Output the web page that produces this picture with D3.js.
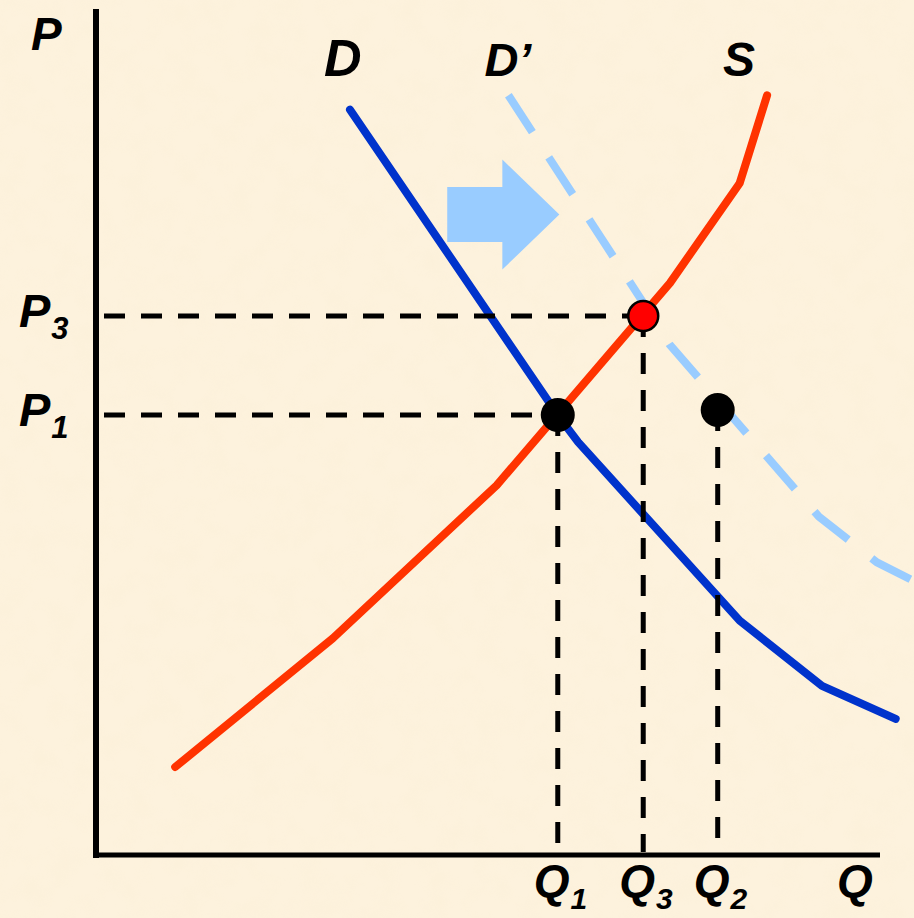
<!DOCTYPE html>
<html>
<head>
<meta charset="utf-8">
<script src="https://cdn.jsdelivr.net/npm/d3@7"></script>
<style>
  body { margin: 0; background: #fcf0d8; }
  text { font-family: "Liberation Sans", Arial, sans-serif; font-weight: bold; font-style: italic; fill: #000; }
</style>
</head>
<body>
<svg id="chart"></svg>
<script>
//set up SVG dimensions
const w = 914, h = 918;

// curves in chart units: [quantity, price], both axes run 0..100
const demand = [[32.4, 88.1], [58.9, 52.0], [61.5, 48.8], [82.1, 27.7], [92.6, 20.0], [102.0, 16.1]];
const demandShifted = [[52.6, 89.8], [70.0, 65.0], [73.2, 60.3], [92.2, 40.0], [99.6, 34.6], [104.3, 32.4]];
const supply = [[10.1, 10.4], [30.2, 25.6], [51.1, 43.7], [73.2, 67.6], [82.1, 79.4], [85.6, 89.8]];

// equilibrium / reference points
const pointNames = ["E1", "E3", "E2"];
const pointQ = [58.9, 69.8, 79.3];
const pointP = [52.0, 63.7, 52.6];

// tick labels
const priceTicks = ["3", "1"];        // P3, P1
const priceValues = [63.7, 52.0];
const qtyTicks = ["1", "3", "2"];      // Q1, Q3, Q2
const qtyValues = [58.9, 69.8, 79.3];

// shift arrow (from q to q, at price)
const arrowFrom = 44.8, arrowTo = 59.1, arrowP = 75.7;

const svg = d3.select("#chart")
    .attr("width", w)
    .attr("height", h);

//parchment background
const defs = svg.append("defs");
const f = defs.append("filter").attr("id", "paper")
    .attr("x", 0).attr("y", 0).attr("width", "100%").attr("height", "100%");
f.append("feTurbulence")
    .attr("type", "fractalNoise")
    .attr("baseFrequency", 0.04)
    .attr("numOctaves", 3)
    .attr("seed", 7)
    .attr("result", "noise");
f.append("feColorMatrix")
    .attr("in", "noise")
    .attr("type", "matrix")
    .attr("values", "0 0 0 0 0.94  0 0 0 0 0.84  0 0 0 0 0.64  1.4 0 0 0 -0.55");

svg.append("rect").attr("width", w).attr("height", h).attr("fill", "#fdf2dd");
svg.append("rect").attr("width", w).attr("height", h)
    .attr("filter", "url(#paper)").attr("opacity", 0.3);

//scales
const x = d3.scaleLinear().domain([0, 100]).range([96, 880]);
const y = d3.scaleLinear().domain([0, 100]).range([855, 9]);

const line = d3.line().x(d => x(d[0])).y(d => y(d[1]));

//axes (plain L shape, no ticks)
svg.append("line")
    .attr("x1", x(0)).attr("x2", x(0))
    .attr("y1", y(100)).attr("y2", y(0) + 3)
    .attr("stroke", "#000").attr("stroke-width", 6);
svg.append("line")
    .attr("x1", x(0) - 3).attr("x2", x(100))
    .attr("y1", y(0)).attr("y2", y(0))
    .attr("stroke", "#000").attr("stroke-width", 5);

//shift arrow
const ay = y(arrowP), ax0 = x(arrowFrom), ax1 = x(arrowTo);
const headX = ax1 - 57;
svg.append("path")
    .attr("d", `M${ax0},${ay - 27.5}L${headX},${ay - 27.5}L${headX},${ay - 55}L${ax1},${ay}` +
        `L${headX},${ay + 55}L${headX},${ay + 27.5}L${ax0},${ay + 27.5}Z`)
    .attr("fill", "#99ccff");

//curves
svg.append("path").datum(demandShifted)
    .attr("d", line)
    .attr("fill", "none")
    .attr("stroke", "#99ccff")
    .attr("stroke-width", 8)
    .attr("stroke-dasharray", "44,30");

svg.append("path").datum(demand)
    .attr("d", line)
    .attr("fill", "none")
    .attr("stroke", "#0033cc")
    .attr("stroke-width", 8)
    .attr("stroke-linecap", "round")
    .attr("stroke-linejoin", "round");

svg.append("path").datum(supply)
    .attr("d", line)
    .attr("fill", "none")
    .attr("stroke", "#ff3300")
    .attr("stroke-width", 8)
    .attr("stroke-linecap", "round")
    .attr("stroke-linejoin", "round");

//dashed guide lines
const dash = "21,16";
priceValues.forEach((p, i) => {
    const q = pointQ[pointP.indexOf(p)];
    svg.append("line")
        .attr("x1", x(0) + 8).attr("x2", x(q))
        .attr("y1", y(p)).attr("y2", y(p))
        .attr("stroke", "#000").attr("stroke-width", 5)
        .attr("stroke-dasharray", dash);
});
pointQ.forEach((q, i) => {
    svg.append("line")
        .attr("x1", x(q)).attr("x2", x(q))
        .attr("y1", y(pointP[i])).attr("y2", y(0) - 3)
        .attr("stroke", "#000").attr("stroke-width", 5)
        .attr("stroke-dasharray", dash);
});

//points
svg.selectAll(".pt")
    .data(pointNames)
    .join("circle")
    .attr("class", "pt")
    .attr("cx", (d, i) => x(pointQ[i]))
    .attr("cy", (d, i) => y(pointP[i]))
    .attr("r", d => d === "E3" ? 15 : 17)
    .attr("fill", d => d === "E3" ? "#ff0000" : "#000")
    .attr("stroke", "#000")
    .attr("stroke-width", d => d === "E3" ? 2.5 : 0);

//curve labels
svg.append("text").attr("x", x(demand[0][0]) - 26).attr("y", 76)
    .attr("font-size", 52).text("D");
svg.append("text").attr("x", x(demandShifted[0][0]) - 24).attr("y", 76)
    .attr("font-size", 47).text("D\u2019");
svg.append("text").attr("x", x(supply[supply.length - 1][0]) - 44).attr("y", 76)
    .attr("font-size", 48).text("S");

//axis labels
svg.append("text").attr("x", 31).attr("y", 50).attr("font-size", 46).text("P");
svg.append("text").attr("x", 837).attr("y", 897).attr("font-size", 46).text("Q");

//price tick labels
priceTicks.forEach((t, i) => {
    const txt = svg.append("text")
        .attr("x", 19).attr("y", y(priceValues[i]) + 11)
        .attr("font-size", 47);
    txt.append("tspan").text("P");
    txt.append("tspan").attr("dx", 1).attr("dy", 12).attr("font-size", 31).text(t);
});

//quantity tick labels
qtyTicks.forEach((t, i) => {
    const txt = svg.append("text")
        .attr("x", x(qtyValues[i]) - 24).attr("y", 897)
        .attr("font-size", 46);
    txt.append("tspan").text("Q");
    txt.append("tspan").attr("dx", 1).attr("dy", 12).attr("font-size", 30).text(t);
});
</script>
</body>
</html>
